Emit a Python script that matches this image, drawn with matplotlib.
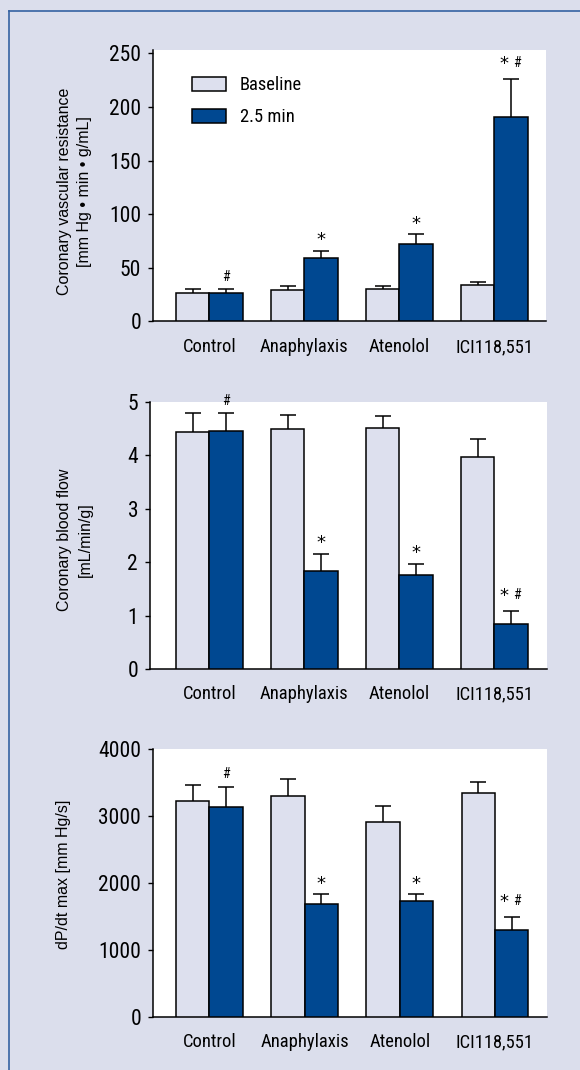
import matplotlib
matplotlib.use("Agg")
import matplotlib.pyplot as plt
from matplotlib.lines import Line2D
from matplotlib import font_manager as fm
import numpy as np

# ---------------- data ----------------
categories = ['Control', 'Anaphylaxis', 'Atenolol', 'ICI118,551']
series_labels = ['Baseline', '2.5 min']

cvr_base = [26.5, 29.6, 30.2, 33.9]
cvr_base_err = [3.4, 3.1, 3.1, 2.8]
cvr_post = [26.5, 59.5, 72.5, 190.8]
cvr_post_err = [3.5, 6.5, 9.1, 35.5]
cvr_marks = ['#', '*', '*', '* #']

cbf_base = [4.44, 4.49, 4.51, 3.97]
cbf_base_err = [0.34, 0.27, 0.22, 0.33]
cbf_post = [4.46, 1.84, 1.75, 0.85]
cbf_post_err = [0.32, 0.32, 0.22, 0.24]
cbf_marks = ['#', '*', '*', '* #']

dpdt_base = [3232, 3307, 2918, 3352]
dpdt_base_err = [239, 249, 234, 154]
dpdt_post = [3142, 1691, 1736, 1302]
dpdt_post_err = [294, 139, 94, 194]
dpdt_marks = ['#', '*', '*', '* #']

cvr_ticks = [0, 50, 100, 150, 200, 250]
cbf_ticks = [0, 1, 2, 3, 4, 5]
dpdt_ticks = [0, 1000, 2000, 3000, 4000]

cvr_ylabel = 'Coronary vascular resistance\n[mm Hg \u2022 min \u2022 g/mL]'
cbf_ylabel = 'Coronary blood flow\n[mL/min/g]'
dpdt_ylabel = 'dP/dt max [mm Hg/s]'

# ---------------- style ----------------
BG = '#dbdeec'
LIGHT = '#dde0ee'
DARK = '#004891'
BORDER = '#3562a2'

installed = {f.name for f in fm.fontManager.ttflist}
cond_candidates = ['Liberation Sans Narrow', 'Roboto Condensed', 'DejaVu Sans Condensed',
                   'Open Sans Condensed', 'Noto Sans Condensed']
cond = [c for c in cond_candidates if c in installed]
HAVE_COND = len(cond) > 0
NARROW = (cond[:1] if HAVE_COND else []) + ['Liberation Sans', 'DejaVu Sans']
REG = ['Liberation Sans', 'DejaVu Sans']
TICK_FS = 15.5 if HAVE_COND else 14
CAT_FS = 13.3 if HAVE_COND else 11.5
LEG_FS = 13.3 if HAVE_COND else 11.5

W, H = 580, 1070
fig = plt.figure(figsize=(W / 100, H / 100), dpi=100, facecolor=BG)


def px_rect(left, right, top, bottom):
    return [left / W, 1 - bottom / H, (right - left) / W, (bottom - top) / H]


def mark(ax, x, ytop, label):
    toks = label.split()
    n = len(toks)
    if n == 1:
        xoffs = [0]
        centre = 9.8 if toks[0] == '#' else 8.8
    else:
        xoffs = [-5.2, 4.0]
        centre = 12.0
    for tok, dx in zip(toks, xoffs):
        if tok == '*':
            fam, fs, gc = ['DejaVu Sans'], 13, 0.38
        else:
            fam, fs, gc = NARROW, 10, 0.35
        ax.annotate(tok, (x, ytop), xytext=(dx, centre - gc * fs),
                    textcoords='offset points', ha='center', va='baseline',
                    family=fam, fontsize=fs, color='black',
                    annotation_clip=False)


def panel(rect, xlim, ylim, base, base_err, post, post_err, marks, ticks,
          ylabel, lab_xy, legend=False):
    ax = fig.add_axes(rect)
    ax.set_facecolor('white')
    x = np.arange(len(categories))
    w = 0.35
    b1 = ax.bar(x - w / 2, base, w, color=LIGHT, edgecolor='black',
                linewidth=1.1, zorder=3, label=series_labels[0])
    b2 = ax.bar(x + w / 2, post, w, color=DARK, edgecolor='black',
                linewidth=1.1, zorder=3, label=series_labels[1])
    for xs, vals, errs in ((x - w / 2, base, base_err), (x + w / 2, post, post_err)):
        cont = ax.errorbar(xs, vals, yerr=[np.zeros(len(errs)), errs], fmt='none',
                           ecolor='black', elinewidth=1.1, capsize=5.5,
                           capthick=1.1, zorder=2)
        cont.lines[1][0].set_visible(False)
    for xi, v, e, m in zip(x + w / 2, post, post_err, marks):
        mark(ax, xi, v + e, m)
    ax.set_xlim(*xlim)
    ax.set_ylim(*ylim)
    ax.set_yticks(ticks)
    ax.set_yticklabels([str(t) for t in ticks], family=NARROW, fontsize=TICK_FS)
    ax.set_xticks(x)
    ax.set_xticklabels(categories, family=NARROW, fontsize=CAT_FS)
    ax.tick_params(axis='x', length=0, pad=11.8)
    ax.tick_params(axis='y', length=3.3, width=1.0, pad=5.3, direction='out')
    for s in ('top', 'right'):
        ax.spines[s].set_visible(False)
    for s in ('left', 'bottom'):
        ax.spines[s].set_linewidth(1.1)
    ax.set_ylabel(ylabel, family=REG, fontsize=11.5, linespacing=1.45)
    ax.yaxis.set_label_coords(*lab_xy)
    if legend:
        ax.legend(handles=[b1, b2], loc='upper left', bbox_to_anchor=(0.098, 0.903),
                  frameon=False, prop={'family': NARROW, 'size': LEG_FS},
                  handlelength=34.5 / (LEG_FS * 100 / 72), handleheight=14 / (LEG_FS * 100 / 72),
                  handletextpad=14 / (LEG_FS * 100 / 72),
                  labelspacing=0.75, borderpad=0, borderaxespad=0)
    return ax


panel(px_rect(153, 546.3, 50, 321.5), (-0.593, 3.547), (0, 253),
      cvr_base, cvr_base_err, cvr_post, cvr_post_err, cvr_marks, cvr_ticks,
      cvr_ylabel, (-0.155, 0.479), legend=True)
panel(px_rect(150, 547, 401.7, 669), (-0.624, 3.555), (0, 5),
      cbf_base, cbf_base_err, cbf_post, cbf_post_err, cbf_marks, cbf_ticks,
      cbf_ylabel, (-0.145, 0.483))
panel(px_rect(153, 547.4, 749.3, 1016.7), (-0.593, 3.551), (0, 4000),
      dpdt_base, dpdt_base_err, dpdt_post, dpdt_post_err, dpdt_marks, dpdt_ticks,
      dpdt_ylabel, (-0.209, 0.534))

# frame lines (top and left)
fig.add_artist(Line2D([9 / W, 1], [1 - 11 / H, 1 - 11 / H], transform=fig.transFigure,
                      color=BORDER, linewidth=1.2))
fig.add_artist(Line2D([9 / W, 9 / W], [0, 1 - 11 / H], transform=fig.transFigure,
                      color=BORDER, linewidth=1.2))

fig.savefig('out.png', dpi=100, facecolor=BG)
